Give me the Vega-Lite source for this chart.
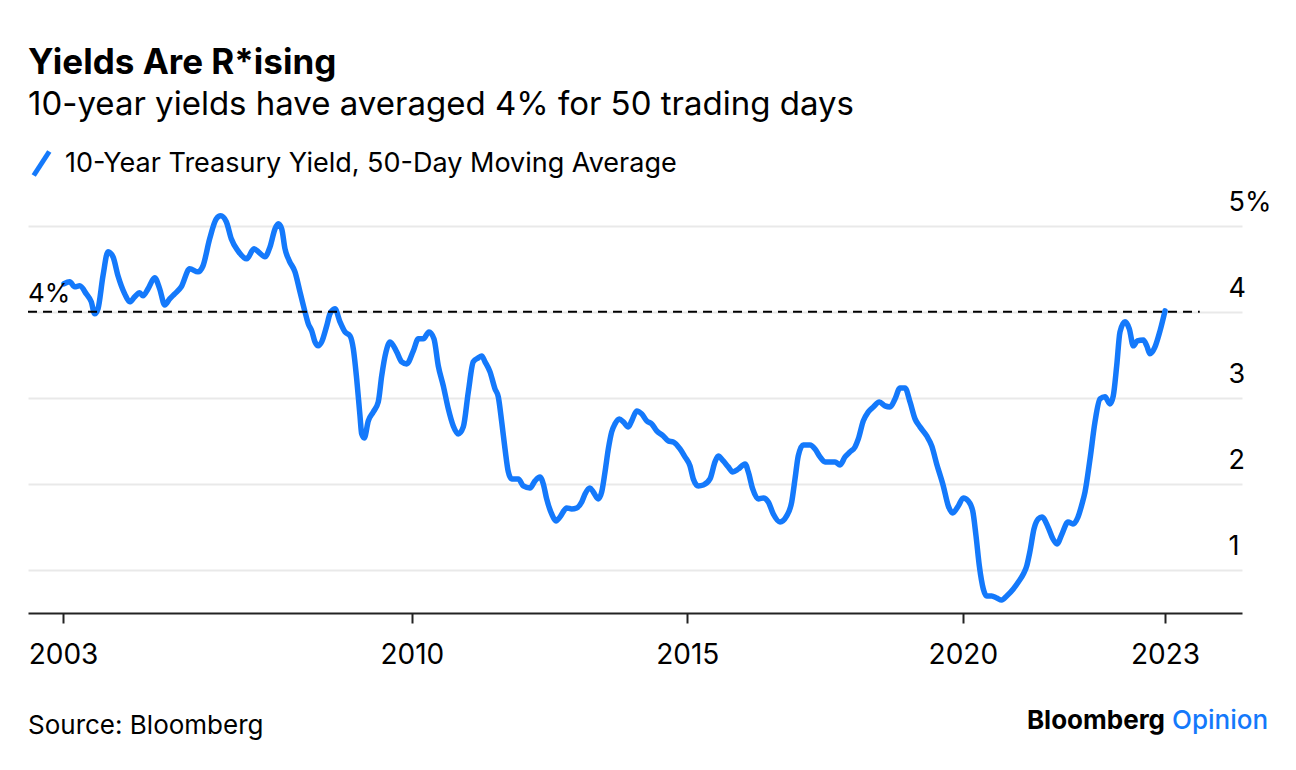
{
  "$schema": "https://vega.github.io/schema/vega-lite/v6.json",
  "autosize": {"type": "none"},
  "width": 1214,
  "height": 413,
  "padding": {"left": 28, "top": 200, "right": 54, "bottom": 157},
  "background": "#ffffff",
  "title": {
    "text": "Yields Are R*ising",
    "subtitle": "10-year yields have averaged 4% for 50 trading days",
    "anchor": "start",
    "frame": "group",
    "font": "Inter",
    "fontSize": 35,
    "fontWeight": "bold",
    "color": "#000000",
    "subtitleFont": "Inter",
    "subtitleFontSize": 33,
    "subtitleColor": "#000000",
    "subtitlePadding": 8,
    "offset": 27
  },
  "config": {
    "view": {"stroke": null},
    "font": "Inter"
  },
  "layer": [
    {
      "data": {"values": [
        {"t": 2003.688, "y": 4.326}, {"t": 2003.792, "y": 4.349}, {"t": 2003.882, "y": 4.291}, {"t": 2003.973, "y": 4.302},
        {"t": 2004.093, "y": 4.209}, {"t": 2004.184, "y": 4.116}, {"t": 2004.245, "y": 3.977}, {"t": 2004.305, "y": 4.035},
        {"t": 2004.396, "y": 4.419}, {"t": 2004.487, "y": 4.698}, {"t": 2004.577, "y": 4.640}, {"t": 2004.668, "y": 4.419},
        {"t": 2004.790, "y": 4.209}, {"t": 2004.881, "y": 4.116}, {"t": 2004.971, "y": 4.174}, {"t": 2005.062, "y": 4.221},
        {"t": 2005.122, "y": 4.186}, {"t": 2005.213, "y": 4.267}, {"t": 2005.334, "y": 4.395}, {"t": 2005.425, "y": 4.267},
        {"t": 2005.516, "y": 4.081}, {"t": 2005.606, "y": 4.151}, {"t": 2005.697, "y": 4.209}, {"t": 2005.817, "y": 4.291},
        {"t": 2005.969, "y": 4.500}, {"t": 2006.120, "y": 4.465}, {"t": 2006.211, "y": 4.535}, {"t": 2006.332, "y": 4.849},
        {"t": 2006.452, "y": 5.081}, {"t": 2006.532, "y": 5.116}, {"t": 2006.634, "y": 5.047}, {"t": 2006.724, "y": 4.849},
        {"t": 2006.846, "y": 4.709}, {"t": 2007.004, "y": 4.616}, {"t": 2007.136, "y": 4.733}, {"t": 2007.214, "y": 4.698},
        {"t": 2007.336, "y": 4.640}, {"t": 2007.427, "y": 4.756}, {"t": 2007.518, "y": 4.965}, {"t": 2007.577, "y": 5.023},
        {"t": 2007.639, "y": 4.965}, {"t": 2007.699, "y": 4.733}, {"t": 2007.777, "y": 4.593}, {"t": 2007.880, "y": 4.465},
        {"t": 2007.971, "y": 4.233}, {"t": 2008.062, "y": 4.000}, {"t": 2008.122, "y": 3.860}, {"t": 2008.184, "y": 3.779},
        {"t": 2008.243, "y": 3.651}, {"t": 2008.303, "y": 3.605}, {"t": 2008.365, "y": 3.651}, {"t": 2008.456, "y": 3.837},
        {"t": 2008.516, "y": 3.977}, {"t": 2008.606, "y": 4.035}, {"t": 2008.697, "y": 3.884}, {"t": 2008.788, "y": 3.767},
        {"t": 2008.879, "y": 3.721}, {"t": 2008.939, "y": 3.570}, {"t": 2009.000, "y": 3.221}, {"t": 2009.060, "y": 2.791},
        {"t": 2009.091, "y": 2.581}, {"t": 2009.138, "y": 2.535}, {"t": 2009.211, "y": 2.733}, {"t": 2009.301, "y": 2.837},
        {"t": 2009.392, "y": 2.953}, {"t": 2009.454, "y": 3.256}, {"t": 2009.532, "y": 3.535}, {"t": 2009.605, "y": 3.651},
        {"t": 2009.726, "y": 3.535}, {"t": 2009.817, "y": 3.419}, {"t": 2009.908, "y": 3.395}, {"t": 2010.028, "y": 3.547},
        {"t": 2010.118, "y": 3.686}, {"t": 2010.209, "y": 3.686}, {"t": 2010.312, "y": 3.767}, {"t": 2010.403, "y": 3.686},
        {"t": 2010.481, "y": 3.372}, {"t": 2010.572, "y": 3.140}, {"t": 2010.663, "y": 2.872}, {"t": 2010.753, "y": 2.674},
        {"t": 2010.844, "y": 2.581}, {"t": 2010.935, "y": 2.663}, {"t": 2011.026, "y": 3.070}, {"t": 2011.116, "y": 3.419},
        {"t": 2011.207, "y": 3.465}, {"t": 2011.269, "y": 3.488}, {"t": 2011.329, "y": 3.419}, {"t": 2011.420, "y": 3.302},
        {"t": 2011.510, "y": 3.105}, {"t": 2011.570, "y": 3.012}, {"t": 2011.632, "y": 2.721}, {"t": 2011.692, "y": 2.407},
        {"t": 2011.752, "y": 2.140}, {"t": 2011.813, "y": 2.058}, {"t": 2011.933, "y": 2.058}, {"t": 2012.024, "y": 1.977},
        {"t": 2012.145, "y": 1.953}, {"t": 2012.236, "y": 2.035}, {"t": 2012.327, "y": 2.081}, {"t": 2012.387, "y": 2.000},
        {"t": 2012.448, "y": 1.826}, {"t": 2012.539, "y": 1.651}, {"t": 2012.617, "y": 1.570}, {"t": 2012.690, "y": 1.616},
        {"t": 2012.811, "y": 1.721}, {"t": 2012.902, "y": 1.709}, {"t": 2012.993, "y": 1.721}, {"t": 2013.084, "y": 1.791},
        {"t": 2013.144, "y": 1.884}, {"t": 2013.234, "y": 1.953}, {"t": 2013.294, "y": 1.907}, {"t": 2013.385, "y": 1.826},
        {"t": 2013.447, "y": 1.907}, {"t": 2013.507, "y": 2.140}, {"t": 2013.567, "y": 2.407}, {"t": 2013.628, "y": 2.605},
        {"t": 2013.688, "y": 2.698}, {"t": 2013.766, "y": 2.756}, {"t": 2013.839, "y": 2.721}, {"t": 2013.930, "y": 2.663},
        {"t": 2013.991, "y": 2.733}, {"t": 2014.082, "y": 2.849}, {"t": 2014.173, "y": 2.814}, {"t": 2014.263, "y": 2.733},
        {"t": 2014.354, "y": 2.698}, {"t": 2014.445, "y": 2.616}, {"t": 2014.565, "y": 2.558}, {"t": 2014.655, "y": 2.500},
        {"t": 2014.746, "y": 2.488}, {"t": 2014.868, "y": 2.407}, {"t": 2014.958, "y": 2.314}, {"t": 2015.049, "y": 2.209},
        {"t": 2015.109, "y": 2.058}, {"t": 2015.200, "y": 1.977}, {"t": 2015.291, "y": 1.988}, {"t": 2015.412, "y": 2.058},
        {"t": 2015.503, "y": 2.256}, {"t": 2015.563, "y": 2.326}, {"t": 2015.653, "y": 2.267}, {"t": 2015.744, "y": 2.198},
        {"t": 2015.824, "y": 2.140}, {"t": 2015.926, "y": 2.174}, {"t": 2016.048, "y": 2.233}, {"t": 2016.107, "y": 2.140},
        {"t": 2016.187, "y": 1.942}, {"t": 2016.289, "y": 1.826}, {"t": 2016.380, "y": 1.837}, {"t": 2016.470, "y": 1.791},
        {"t": 2016.561, "y": 1.651}, {"t": 2016.683, "y": 1.558}, {"t": 2016.804, "y": 1.628}, {"t": 2016.895, "y": 1.791},
        {"t": 2016.955, "y": 2.058}, {"t": 2017.014, "y": 2.326}, {"t": 2017.105, "y": 2.453}, {"t": 2017.227, "y": 2.453},
        {"t": 2017.318, "y": 2.407}, {"t": 2017.409, "y": 2.314}, {"t": 2017.500, "y": 2.256}, {"t": 2017.590, "y": 2.256},
        {"t": 2017.681, "y": 2.256}, {"t": 2017.772, "y": 2.221}, {"t": 2017.863, "y": 2.314}, {"t": 2017.953, "y": 2.372},
        {"t": 2018.044, "y": 2.430}, {"t": 2018.104, "y": 2.523}, {"t": 2018.194, "y": 2.733}, {"t": 2018.285, "y": 2.837},
        {"t": 2018.376, "y": 2.895}, {"t": 2018.485, "y": 2.953}, {"t": 2018.588, "y": 2.907}, {"t": 2018.679, "y": 2.895},
        {"t": 2018.770, "y": 2.988}, {"t": 2018.860, "y": 3.116}, {"t": 2018.951, "y": 3.116}, {"t": 2019.042, "y": 2.953},
        {"t": 2019.133, "y": 2.756}, {"t": 2019.223, "y": 2.663}, {"t": 2019.345, "y": 2.558}, {"t": 2019.436, "y": 2.442},
        {"t": 2019.526, "y": 2.233}, {"t": 2019.646, "y": 1.977}, {"t": 2019.737, "y": 1.744}, {"t": 2019.817, "y": 1.663},
        {"t": 2019.918, "y": 1.744}, {"t": 2020.009, "y": 1.837}, {"t": 2020.100, "y": 1.802}, {"t": 2020.180, "y": 1.686},
        {"t": 2020.240, "y": 1.395}, {"t": 2020.300, "y": 1.047}, {"t": 2020.372, "y": 0.779}, {"t": 2020.434, "y": 0.698},
        {"t": 2020.524, "y": 0.698}, {"t": 2020.615, "y": 0.674}, {"t": 2020.706, "y": 0.651}, {"t": 2020.797, "y": 0.698},
        {"t": 2020.917, "y": 0.779}, {"t": 2021.008, "y": 0.860}, {"t": 2021.099, "y": 0.953}, {"t": 2021.160, "y": 1.047},
        {"t": 2021.220, "y": 1.221}, {"t": 2021.292, "y": 1.477}, {"t": 2021.370, "y": 1.593}, {"t": 2021.437, "y": 1.616},
        {"t": 2021.546, "y": 1.500}, {"t": 2021.637, "y": 1.360}, {"t": 2021.709, "y": 1.302}, {"t": 2021.800, "y": 1.419},
        {"t": 2021.909, "y": 1.558}, {"t": 2022.000, "y": 1.535}, {"t": 2022.091, "y": 1.616}, {"t": 2022.163, "y": 1.767},
        {"t": 2022.218, "y": 1.907}, {"t": 2022.309, "y": 2.291}, {"t": 2022.399, "y": 2.721}, {"t": 2022.490, "y": 2.988},
        {"t": 2022.581, "y": 3.012}, {"t": 2022.671, "y": 2.930}, {"t": 2022.731, "y": 3.023}, {"t": 2022.793, "y": 3.372},
        {"t": 2022.853, "y": 3.767}, {"t": 2022.944, "y": 3.884}, {"t": 2023.022, "y": 3.802}, {"t": 2023.095, "y": 3.605},
        {"t": 2023.167, "y": 3.663}, {"t": 2023.276, "y": 3.674}, {"t": 2023.339, "y": 3.605}, {"t": 2023.397, "y": 3.512},
        {"t": 2023.488, "y": 3.593}, {"t": 2023.579, "y": 3.779}, {"t": 2023.670, "y": 4.012}
      ]},
      "transform": [{"calculate": "'10-Year Treasury Yield, 50-Day Moving Average'", "as": "series"}],
      "mark": {"type": "line", "strokeWidth": 5.5, "strokeCap": "round", "strokeJoin": "round", "interpolate": "monotone"},
      "encoding": {
        "x": {
          "field": "t", "type": "quantitative",
          "scale": {"domain": [2003.035, 2025.067], "nice": false, "zero": false},
          "axis": {
            "title": null,
            "values": [2003.67, 2010, 2015, 2020, 2023.67],
            "labelExpr": "datum.value < 2004 ? '2003' : datum.value > 2023 ? '2023' : format(datum.value, 'd')",
            "grid": false,
            "domain": true, "domainColor": "#222222", "domainWidth": 2,
            "ticks": true, "tickColor": "#222222", "tickWidth": 2, "tickSize": 10,
            "labelFont": "Inter", "labelFontSize": 28, "labelColor": "#000000",
            "labelPadding": 18, "labelFlush": false, "labelOverlap": false, "labelBound": false
          }
        },
        "y": {
          "field": "y", "type": "quantitative",
          "scale": {"domain": [0.5, 5.3], "nice": false, "zero": false},
          "axis": {
            "title": null, "orient": "right",
            "values": [1, 2, 3, 4, 5],
            "labelExpr": "datum.value == 5 ? '5%' : format(datum.value, 'd')",
            "grid": true, "gridColor": "#e9e9e9", "gridWidth": 2,
            "domain": false, "ticks": false,
            "labelFont": "Inter", "labelFontSize": 27, "labelColor": "#000000",
            "labelAlign": "left", "labelBaseline": "middle", "labelPadding": -14, "labelOffset": -23,
            "labelFlush": false, "labelOverlap": false, "labelBound": false
          }
        },
        "color": {
          "field": "series", "type": "nominal",
          "scale": {"range": ["#1479fb"]},
          "legend": {
            "title": null, "orient": "none", "legendX": -1, "legendY": -51,
            "padding": 0,
            "symbolType": "M-0.65,1L0.65,-1", "symbolSize": 576, "symbolStrokeWidth": 5,
            "symbolFillColor": "transparent",
            "labelFont": "Inter", "labelFontSize": 27, "labelColor": "#000000", "labelOffset": 9, "labelLimit": 0
          }
        }
      }
    },
    {
      "data": {"values": [{}]},
      "mark": {"type": "rule", "color": "#000000", "strokeWidth": 2, "strokeDash": [9, 6]},
      "encoding": {
        "x": {"datum": 2003.035, "type": "quantitative"},
        "x2": {"datum": 2024.3},
        "y": {"datum": 4, "type": "quantitative"}
      }
    },
    {
      "data": {"values": [{}]},
      "mark": {"type": "text", "text": "4%", "font": "Inter", "fontSize": 26, "color": "#000000", "align": "left", "baseline": "middle", "dy": -18},
      "encoding": {
        "x": {"datum": 2003.035, "type": "quantitative"},
        "y": {"datum": 4, "type": "quantitative"}
      }
    },
    {
      "data": {"values": [{}]},
      "mark": {"type": "text", "text": "Source: Bloomberg", "font": "Inter", "fontSize": 26, "color": "#000000", "align": "left", "baseline": "middle"},
      "encoding": {
        "x": {"datum": 2003.035, "type": "quantitative"},
        "y": {"datum": -0.814, "type": "quantitative"}
      }
    },
    {
      "data": {"values": [{}]},
      "mark": {"type": "text", "text": "Bloomberg", "font": "Inter", "fontSize": 26, "fontWeight": "bold", "color": "#000000", "align": "right", "baseline": "middle"},
      "encoding": {
        "x": {"datum": 2023.67, "type": "quantitative"},
        "y": {"datum": -0.756, "type": "quantitative"}
      }
    },
    {
      "data": {"values": [{}]},
      "mark": {"type": "text", "text": "Opinion", "font": "Inter", "fontSize": 26, "fontWeight": 500, "color": "#1479fb", "align": "left", "baseline": "middle"},
      "encoding": {
        "x": {"datum": 2023.797, "type": "quantitative"},
        "y": {"datum": -0.756, "type": "quantitative"}
      }
    }
  ]
}
